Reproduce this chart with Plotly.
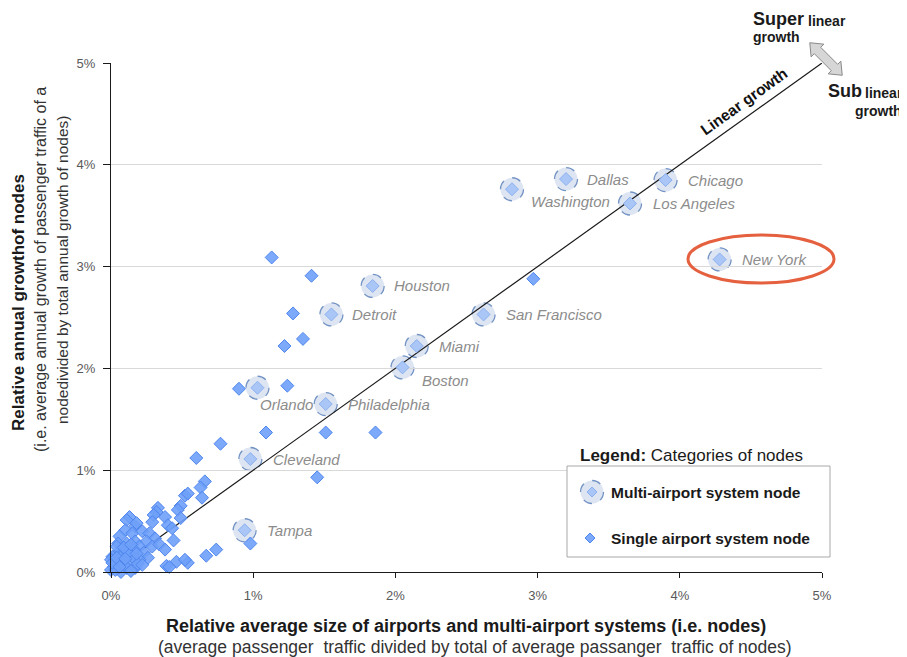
import plotly.graph_objects as go

# Multi-airport system nodes (values in %)
MULTI_NAMES = ["Dallas", "Chicago", "Washington", "Los Angeles", "New York", "Houston", "Detroit",
               "San Francisco", "Miami", "Boston", "Orlando", "Philadelphia", "Cleveland", "Tampa"]
MULTI_X = [3.20, 3.90, 2.82, 3.65, 4.28, 1.84, 1.55, 2.62, 2.15, 2.05, 1.03, 1.51, 0.98, 0.94]
MULTI_Y = [3.86, 3.85, 3.76, 3.62, 3.07, 2.81, 2.53, 2.53, 2.22, 2.01, 1.81, 1.65, 1.11, 0.41]

# Single airport system nodes (values in %)
SINGLE_X = [1.13, 1.41, 1.28, 1.35, 1.22, 1.24, 0.90, 2.97, 1.09, 1.51, 1.86, 1.45, 0.98, 0.77,
            0.60, 0.74, 0.67, 0.54, 0.39,
            0.66, 0.63, 0.64, 0.52, 0.54, 0.49, 0.47, 0.33, 0.32, 0.38, 0.49, 0.30, 0.29, 0.40,
            0.43, 0.13, 0.11, 0.17, 0.10, 0.15, 0.22, 0.27, 0.31, 0.25, 0.29, 0.34, 0.38, 0.44,
            0.46, 0.41, 0.52, 0.18,
            0.06, 0.05, 0.11, 0.17, 0.20, 0.16, 0.10, 0.05, 0.01, 0.23, 0.26, 0.20, 0.13, 0.06,
            0.02, 0.00, 0.11, 0.17, 0.07, 0.04, 0.15, 0.00, 0.03, 0.09, 0.14, 0.19, 0.08, 0.12,
            0.03, 0.01, 0.22, 0.09, 0.14, 0.18, 0.04, 0.10, 0.06]
SINGLE_Y = [3.09, 2.91, 2.54, 2.29, 2.22, 1.83, 1.80, 2.88, 1.37, 1.37, 1.37, 0.93, 0.28, 1.26,
            1.12, 0.22, 0.16, 0.09, 0.06,
            0.89, 0.83, 0.73, 0.75, 0.77, 0.65, 0.61, 0.63, 0.59, 0.54, 0.53, 0.56, 0.49, 0.46,
            0.43, 0.54, 0.51, 0.45, 0.41, 0.38, 0.40, 0.38, 0.33, 0.30, 0.25, 0.27, 0.22, 0.31,
            0.10, 0.05, 0.12, 0.48,
            0.35, 0.28, 0.28, 0.30, 0.25, 0.22, 0.20, 0.19, 0.15, 0.19, 0.14, 0.12, 0.10, 0.10,
            0.05, 0.02, 0.04, 0.04, 0.00, 0.25, 0.15, 0.12, 0.08, 0.07, 0.01, 0.08, 0.16, 0.19,
            0.02, 0.09, 0.07, 0.24, 0.27, 0.18, 0.14, 0.13, 0.05]

# Linear growth reference line
LINE_X = [0, 5]
LINE_Y = [0, 5]

TICK_VALS = [0, 1, 2, 3, 4, 5]
TICK_TEXT = ["0%", "1%", "2%", "3%", "4%", "5%"]

# label placement for city names (pixel shifts from the marker)
LABEL_SHIFT = {
    "Dallas": (19, 0), "Chicago": (20, 0), "Washington": (17, -12), "Los Angeles": (21, 0),
    "New York": (20, 0), "Houston": (19, 0), "Detroit": (19, 0), "San Francisco": (20, 0),
    "Miami": (20, 0), "Boston": (17, -13), "Orlando": (1, -17), "Philadelphia": (20, 0),
    "Cleveland": (21, 0), "Tampa": (20, 0),
}

FONT = "Arial, 'Liberation Sans', sans-serif"
SINGLE_FILL = "rgba(110,160,248,0.9)"
SINGLE_LINE = "#4f86ee"
MULTI_FILL = "#dde5f2"
MULTI_LINE = "#7393c4"

# the page body has an 8px margin, so the figure is drawn 8px in from the window corner
OFF = 8
W, H = 907 - OFF, 657 - OFF
PL, PR, PT, PB = 111, 822, 63, 572   # plot area in window pixels


def paper(xp, yp):
    """window pixel position -> paper coordinates"""
    return (xp - PL) / (PR - PL), (PB - yp) / (PB - PT)


fig = go.Figure()

fig.add_trace(go.Scatter(x=LINE_X, y=LINE_Y, mode="lines", line=dict(color="#1a1a1a", width=1.2),
                         cliponaxis=False, hoverinfo="skip"))
fig.add_trace(go.Scatter(
    x=SINGLE_X, y=SINGLE_Y, mode="markers", cliponaxis=False,
    marker=dict(symbol="diamond", size=10, color=SINGLE_FILL, line=dict(color=SINGLE_LINE, width=1)),
))
fig.add_trace(go.Scatter(
    x=MULTI_X, y=MULTI_Y, mode="markers", text=MULTI_NAMES, cliponaxis=False,
    marker=dict(symbol="diamond", size=10, color="#a9c6f6", line=dict(color="#8cb0ef", width=1)),
))

shapes = []
# dashed circles round multi-airport nodes
for mx, my in zip(MULTI_X, MULTI_Y):
    shapes.append(dict(type="circle", xref="x", yref="y", xsizemode="pixel", ysizemode="pixel",
                       xanchor=mx, yanchor=my, x0=-11.5, x1=11.5, y0=-11.5, y1=11.5,
                       fillcolor=MULTI_FILL, line=dict(color=MULTI_LINE, width=1.3, dash="dash"),
                       layer="below"))

annotations = []
for name, mx, my in zip(MULTI_NAMES, MULTI_X, MULTI_Y):
    dx, dy = LABEL_SHIFT[name]
    annotations.append(dict(x=mx, y=my, xref="x", yref="y", text=f"<i>{name}</i>", showarrow=False,
                            xanchor="left", yanchor="middle", xshift=dx, yshift=dy,
                            font=dict(family=FONT, size=15, color="#8c8c8c")))

# linear growth label along the diagonal
annotations.append(dict(x=4.5, y=4.5, xref="x", yref="y", text="<b>Linear growth</b>", showarrow=False,
                        textangle=-35.6, xshift=-7, yshift=12,
                        font=dict(family=FONT, size=15.5, color="#111111")))

# New York highlight ellipse
x0, y0 = paper(688, 283)
x1, y1 = paper(834, 235)
shapes.append(dict(type="circle", xref="paper", yref="paper", x0=x0, x1=x1, y0=y0, y1=y1,
                   line=dict(color="#e5603e", width=3)))

# double-headed block arrow (super / sub linear)
cx, cy = 826, 59
ux, uy = 0.707, 0.707
vx, vy = -0.707, 0.707
local = [(-23, 0), (-12, 9), (-12, 4.5), (12, 4.5), (12, 9), (23, 0), (12, -9), (12, -4.5),
         (-12, -4.5), (-12, -9)]
pts = [paper(cx + s * ux + t * vx, cy + s * uy + t * vy) for s, t in local]
path = "M " + " L ".join(f"{p[0]:.4f},{p[1]:.4f}" for p in pts) + " Z"
shapes.append(dict(type="path", xref="paper", yref="paper", path=path,
                   fillcolor="#d6d6d6", line=dict(color="#8a8a8a", width=1)))


def text_at(xp, yp, text, size, bold=True, anchor="left", color="#1a1a1a", angle=0):
    px_, py_ = paper(xp, yp)
    annotations.append(dict(x=px_, y=py_, xref="paper", yref="paper", showarrow=False,
                            text=f"<b>{text}</b>" if bold else text, xanchor=anchor, yanchor="middle",
                            textangle=angle, font=dict(family=FONT, size=size, color=color)))


text_at(751, 19, "Super", 18)
text_at(806, 21, "linear", 14)
text_at(751, 37, "growth", 14)
text_at(826, 91, "Sub", 18)
text_at(863, 93, "linear", 14)
text_at(853, 111, "growth", 14)

# custom legend box
lx0, ly0 = paper(567, 557)
lx1, ly1 = paper(830, 466)
shapes.append(dict(type="rect", xref="paper", yref="paper", x0=lx0, x1=lx1, y0=ly0, y1=ly1,
                   fillcolor="white", line=dict(color="#a8a8a8", width=1), layer="above"))
ix, iy = paper(592, 492)
shapes.append(dict(type="circle", xref="paper", yref="paper", xsizemode="pixel", ysizemode="pixel",
                   xanchor=ix, yanchor=iy, x0=-11.5, x1=11.5, y0=-11.5, y1=11.5,
                   fillcolor=MULTI_FILL, line=dict(color=MULTI_LINE, width=1.3, dash="dash"),
                   layer="above"))
diamond = "M -5,0 L 0,5 L 5,0 L 0,-5 Z"
shapes.append(dict(type="path", xref="paper", yref="paper", xsizemode="pixel", ysizemode="pixel",
                   xanchor=ix, yanchor=iy, path=diamond, fillcolor="#a9c6f6",
                   line=dict(color="#8cb0ef", width=1), layer="above"))
sx, sy = paper(590, 538)
shapes.append(dict(type="path", xref="paper", yref="paper", xsizemode="pixel", ysizemode="pixel",
                   xanchor=sx, yanchor=sy, path=diamond, fillcolor=SINGLE_FILL,
                   line=dict(color=SINGLE_LINE, width=1), layer="above"))

text_at(578, 455, "<b>Legend:</b> Categories of nodes", 17, bold=False)
text_at(609, 492, "Multi-airport system node", 15.5)
text_at(609, 538, "Single airport system node", 15.5)

# axis titles
text_at(466, 626, "Relative average size of airports and multi-airport systems (i.e. nodes)", 18,
        anchor="center")
text_at(475, 647, "(average passenger  traffic divided by total of average passanger  traffic of nodes)",
        17.5, bold=False, anchor="center", color="#333333")
text_at(18, 302, "Relative annual growthof nodes", 17, anchor="center", angle=-90)
text_at(40, 270, "(i.e. average annual growth of passenger traffic of a", 16, bold=False,
        anchor="center", color="#333333", angle=-90)
text_at(62, 270, "nodedivided by total annual growth of nodes)", 15.5, bold=False,
        anchor="center", color="#333333", angle=-90)

fig.update_layout(
    width=W, height=H, autosize=False,
    margin=dict(l=PL - OFF, r=W + OFF - PR, t=PT - OFF, b=H + OFF - PB),
    paper_bgcolor="white", plot_bgcolor="white",
    showlegend=False, hovermode=False,
    shapes=shapes, annotations=annotations,
    font=dict(family=FONT, size=13, color="#595959"),
)
fig.update_xaxes(range=[0, 5], tickvals=TICK_VALS, ticktext=TICK_TEXT, showgrid=False, zeroline=False,
                 showline=True, linecolor="#1a1a1a", linewidth=1, ticks="outside", ticklen=5,
                 tickcolor="#1a1a1a", ticklabelstandoff=6, tickfont=dict(size=13, color="#595959"))
fig.update_yaxes(range=[0, 5], tickvals=TICK_VALS, ticktext=TICK_TEXT, showgrid=True, gridcolor="#d9d9d9",
                 gridwidth=1, zeroline=False, showline=True, linecolor="#1a1a1a", linewidth=1,
                 ticks="outside", ticklen=7, tickcolor="#1a1a1a", ticklabelstandoff=5,
                 tickfont=dict(size=13, color="#595959"))

fig.write_html("out.html")
